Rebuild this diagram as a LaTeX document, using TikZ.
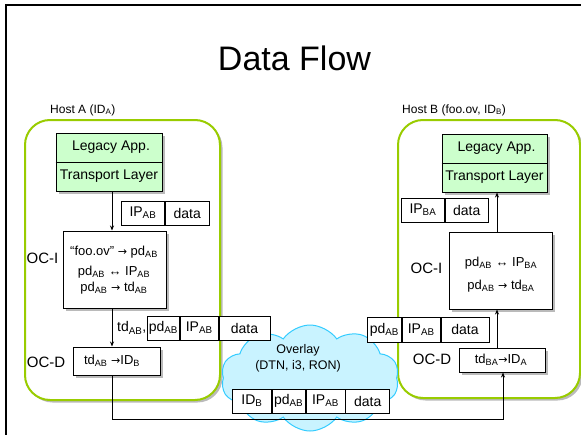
\documentclass[tikz,border=0pt]{standalone}
\usepackage{fontspec}
\setmainfont{Liberation Sans}
\newfontfamily\arrowfont{DejaVu Sans}
\usetikzlibrary{shapes.symbols,shadows,arrows.meta,calc}

\definecolor{hostgreen}{HTML}{99CC00}
\definecolor{appfill}{HTML}{CCFFCC}
\definecolor{cloudfill}{HTML}{C9F3FF}
\definecolor{cloudline}{HTML}{33CCFF}

\newcommand{\sbs}[1]{\textsubscript{#1}}
\newcommand{\rarr}{{\arrowfont\scalebox{0.85}{→}}}

\tikzset{
  boxshadow/.style={drop shadow={shadow xshift=2.5pt, shadow yshift=-2.5pt, fill=black!45, opacity=0.6}},
  hostbox/.style={draw=hostgreen, line width=2pt, rounded corners=25pt, fill=white, anchor=north west, boxshadow},
  appbox/.style={draw, line width=1pt, fill=appfill, boxshadow, minimum height=58, inner sep=0},
  ocbox/.style={draw, line width=1pt, fill=white, boxshadow, inner sep=0},
  cell/.style={draw, line width=0.8pt, fill=white, minimum height=24, inner sep=0, anchor=west, font=\fontsize{14}{17}\selectfont},
  txt/.style={inner sep=0, font=\fontsize{14}{17}\selectfont},
  small/.style={inner sep=0, font=\fontsize{12}{15}\selectfont},
  octext/.style={inner sep=0, font=\fontsize{13}{16}\selectfont},
  oclabel/.style={inner sep=0, font=\fontsize{15}{18}\selectfont},
  arr/.style={line width=0.8pt, -{Stealth[length=5pt,width=4pt]}}
}

\begin{document}
\begin{tikzpicture}[x=1pt, y=-1pt]
\useasboundingbox (0,0) rectangle (581,434);

% slide frame
\draw[line width=2pt] (6,445) -- (6,5) -- (595,5);

% title
\node[inner sep=0, anchor=base, font=\fontsize{34}{40}\selectfont] (title) at (294.5,70) {Data Flow};

% hosts
\node[small, anchor=base west] (hostAlbl) at (50,113) {Host A (ID\sbs{A})};
\node[small, anchor=base west] (hostBlbl) at (402,113) {Host B (foo.ov, ID\sbs{B})};
\node[hostbox, minimum width=195, minimum height=280] (hostA) at (24,119) {};
\node[hostbox, minimum width=182, minimum height=278] (hostB) at (397,119) {};

% overlay cloud
\node[cloud, cloud puffs=10, cloud puff arc=110, aspect=1.7, draw=cloudline, line width=1pt, fill=cloudfill,
      minimum width=178, minimum height=106] (overlay) at (310,378) {};
\node[small, align=center, font=\fontsize{12.5}{16}\selectfont] (overlaytxt) at (298,358) {Overlay\\(DTN, i3, RON)};

% application stacks
\node[appbox, minimum width=106] (stackA) at (109,162) {};
\draw[line width=0.8pt] (stackA.west) -- (stackA.east);
\node[txt] (appA) at (111,147.5) {Legacy App.};
\node[txt] (tlA) at (109,176.5) {Transport Layer};

\node[appbox, minimum width=105] (stackB) at (494.5,163) {};
\draw[line width=0.8pt] (stackB.west) -- (stackB.east);
\node[txt] (appB) at (496.5,148.5) {Legacy App.};
\node[txt] (tlB) at (494.5,177.5) {Transport Layer};

% OC-I / OC-D boxes, host A
\node[ocbox, minimum width=103, minimum height=77] (ociA) at (114.5,269.5) {};
\node[octext] (ociA1) at (114,252) {“foo.ov” \rarr{} pd\sbs{AB}};
\node[octext] (ociA2) at (114,272) {pd\sbs{AB} ↔ IP\sbs{AB}};
\node[octext] (ociA3) at (114,288) {pd\sbs{AB} \rarr{} td\sbs{AB}};
\node[oclabel] (ociAlbl) at (42.5,258) {OC-I};

\node[ocbox, minimum width=87, minimum height=28] (ocdA) at (116.5,361) {};
\node[octext] (ocdAtxt) at (112,361) {td\sbs{AB} \rarr{}ID\sbs{B}};
\node[oclabel] (ocdAlbl) at (46,362) {OC-D};

% OC-I / OC-D boxes, host B
\node[ocbox, minimum width=103, minimum height=77] (ociB) at (500.5,270.5) {};
\node[octext] (ociB1) at (501,263) {pd\sbs{AB} ↔ IP\sbs{BA}};
\node[octext] (ociB2) at (501,286) {pd\sbs{AB} \rarr{} td\sbs{BA}};
\node[oclabel] (ociBlbl) at (426.5,268) {OC-I};

\node[ocbox, minimum width=86, minimum height=24] (ocdB) at (502,360) {};
\node[octext] (ocdBtxt) at (501,360) {td\sbs{BA}\rarr{}ID\sbs{A}};
\node[oclabel] (ocdBlbl) at (432,359) {OC-D};

% packets
\node[cell, minimum width=43] (pA1ip) at (121,213) {IP\sbs{AB}};
\node[cell, minimum width=44] (pA1data) at (pA1ip.east) {data};

\node[cell, minimum width=43] (pB1ip) at (401,210) {IP\sbs{BA}};
\node[cell, minimum width=43] (pB1data) at (pB1ip.east) {data};

\node[cell, minimum width=32] (pA2pd) at (147,328) {pd\sbs{AB}};
\node[cell, minimum width=38] (pA2ip) at (pA2pd.east) {IP\sbs{AB}};
\node[cell, minimum width=51] (pA2data) at (pA2ip.east) {data};
\node[txt, anchor=east] (tdlbl) at ([xshift=-0.5pt]pA2pd.west) {td\sbs{AB},};

\node[cell, minimum width=34, minimum height=25] (pB2pd) at (367,329.5) {pd\sbs{AB}};
\node[cell, minimum width=38, minimum height=25] (pB2ip) at (pB2pd.east) {IP\sbs{AB}};
\node[cell, minimum width=48, minimum height=25] (pB2data) at (pB2ip.east) {data};

\node[cell, minimum width=39] (pOid) at (232,401) {ID\sbs{B}};
\node[cell, minimum width=33] (pOpd) at (pOid.east) {pd\sbs{AB}};
\node[cell, minimum width=39] (pOip) at (pOpd.east) {IP\sbs{AB}};
\node[cell, minimum width=44] (pOdata) at (pOip.east) {data};

% connectors
\coordinate (colA) at (112,0);
\coordinate (colB) at (497,0);
\coordinate (route) at (503,419);

\draw[arr] (stackA.south -| colA) -- (ociA.north -| colA);
\draw[arr] (ociA.south -| colA) -- (ocdA.north -| colA);
\draw[arr] (ocdA.south -| colA) |- (route) -- (ocdB.south -| route);
\draw[arr] (ocdB.north -| colB) -- (ociB.south -| colB);
\draw[arr] (ociB.north -| colB) -- (stackB.south -| colB);

\end{tikzpicture}
\end{document}
